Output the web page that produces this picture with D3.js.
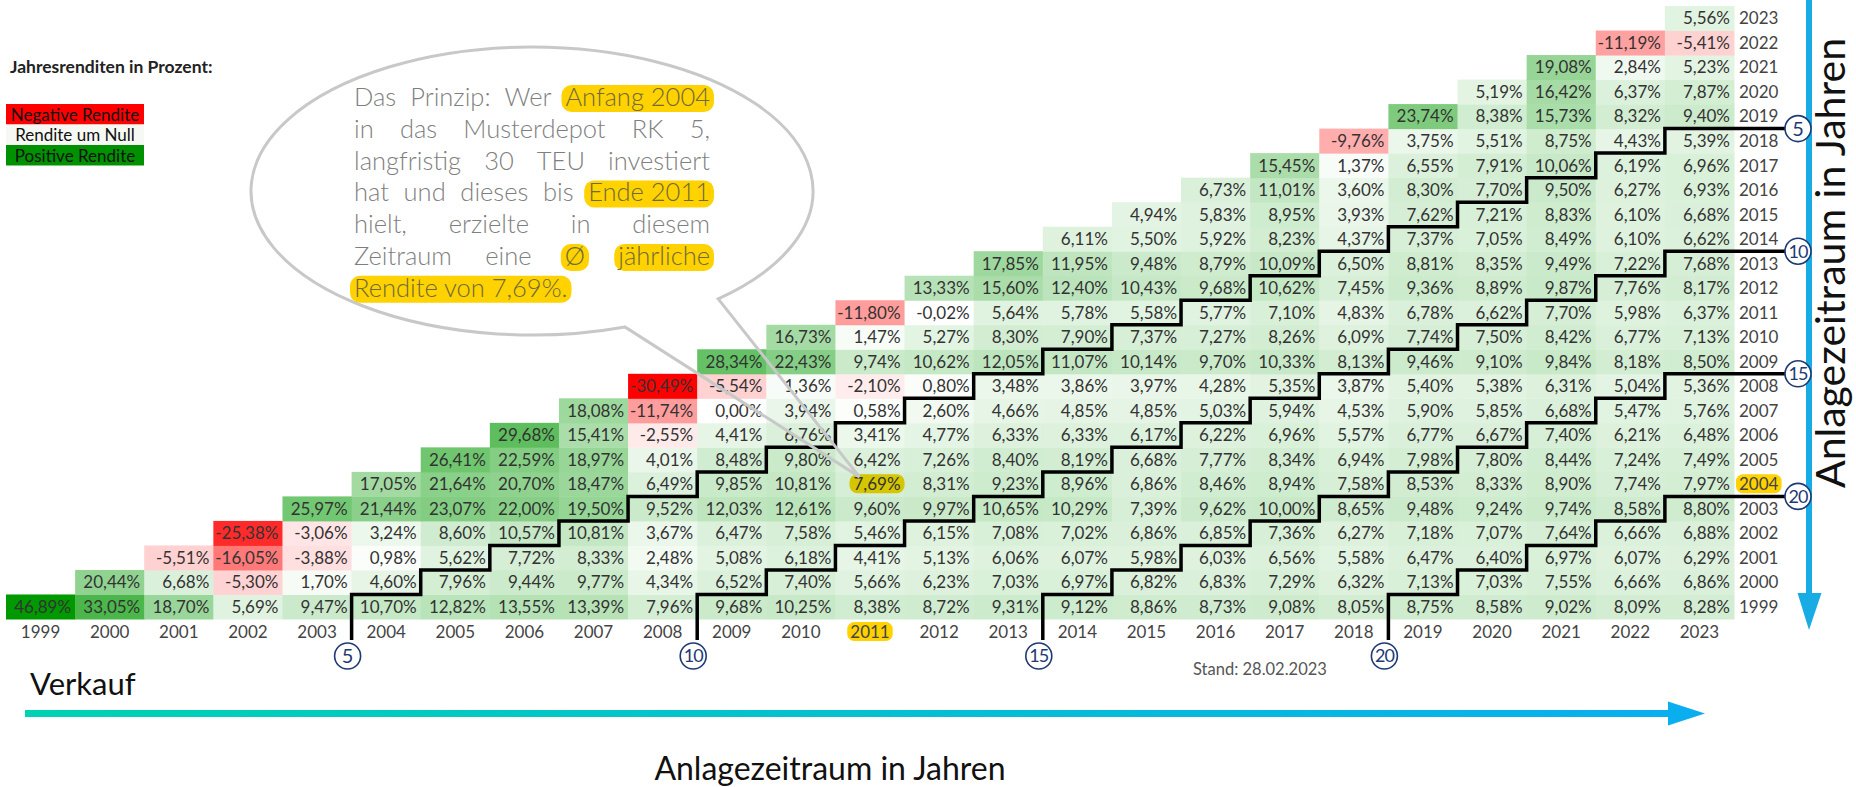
<!DOCTYPE html>
<html>
<head>
<meta charset="utf-8">
<script src="https://cdn.jsdelivr.net/npm/d3@7"></script>
<style>
body { margin: 0; background: #fff; }
svg { display: block; font-family: Lato, "Open Sans", sans-serif; }
</style>
</head>
<body>
<svg id="chart" width="1856" height="787"></svg>
<script>
/**** DATA *****/
const buyYears = [1999, 2000, 2001, 2002, 2003, 2004, 2005, 2006, 2007, 2008, 2009, 2010, 2011,
	2012, 2013, 2014, 2015, 2016, 2017, 2018, 2019, 2020, 2021, 2022, 2023];
const sellYears = buyYears.slice();

// average yearly return for "buy at start of row year, sell at end of column year"
const r1999 = [46.89, 33.05, 18.70, 5.69, 9.47, 10.70, 12.82, 13.55, 13.39, 7.96, 9.68, 10.25, 8.38, 8.72, 9.31, 9.12, 8.86, 8.73, 9.08, 8.05, 8.75, 8.58, 9.02, 8.09, 8.28];
const r2000 = [20.44, 6.68, -5.30, 1.70, 4.60, 7.96, 9.44, 9.77, 4.34, 6.52, 7.40, 5.66, 6.23, 7.03, 6.97, 6.82, 6.83, 7.29, 6.32, 7.13, 7.03, 7.55, 6.66, 6.86];
const r2001 = [-5.51, -16.05, -3.88, 0.98, 5.62, 7.72, 8.33, 2.48, 5.08, 6.18, 4.41, 5.13, 6.06, 6.07, 5.98, 6.03, 6.56, 5.58, 6.47, 6.40, 6.97, 6.07, 6.29];
const r2002 = [-25.38, -3.06, 3.24, 8.60, 10.57, 10.81, 3.67, 6.47, 7.58, 5.46, 6.15, 7.08, 7.02, 6.86, 6.85, 7.36, 6.27, 7.18, 7.07, 7.64, 6.66, 6.88];
const r2003 = [25.97, 21.44, 23.07, 22.00, 19.50, 9.52, 12.03, 12.61, 9.60, 9.97, 10.65, 10.29, 7.39, 9.62, 10.00, 8.65, 9.48, 9.24, 9.74, 8.58, 8.80];
const r2004 = [17.05, 21.64, 20.70, 18.47, 6.49, 9.85, 10.81, 7.69, 8.31, 9.23, 8.96, 6.86, 8.46, 8.94, 7.58, 8.53, 8.33, 8.90, 7.74, 7.97];
const r2005 = [26.41, 22.59, 18.97, 4.01, 8.48, 9.80, 6.42, 7.26, 8.40, 8.19, 6.68, 7.77, 8.34, 6.94, 7.98, 7.80, 8.44, 7.24, 7.49];
const r2006 = [29.68, 15.41, -2.55, 4.41, 6.76, 3.41, 4.77, 6.33, 6.33, 6.17, 6.22, 6.96, 5.57, 6.77, 6.67, 7.40, 6.21, 6.48];
const r2007 = [18.08, -11.74, 0.00, 3.94, 0.58, 2.60, 4.66, 4.85, 4.85, 5.03, 5.94, 4.53, 5.90, 5.85, 6.68, 5.47, 5.76];
const r2008 = [-30.49, -5.54, 1.36, -2.10, 0.80, 3.48, 3.86, 3.97, 4.28, 5.35, 3.87, 5.40, 5.38, 6.31, 5.04, 5.36];
const r2009 = [28.34, 22.43, 9.74, 10.62, 12.05, 11.07, 10.14, 9.70, 10.33, 8.13, 9.46, 9.10, 9.84, 8.18, 8.50];
const r2010 = [16.73, 1.47, 5.27, 8.30, 7.90, 7.37, 7.27, 8.26, 6.09, 7.74, 7.50, 8.42, 6.77, 7.13];
const r2011 = [-11.80, -0.02, 5.64, 5.78, 5.58, 5.77, 7.10, 4.83, 6.78, 6.62, 7.70, 5.98, 6.37];
const r2012 = [13.33, 15.60, 12.40, 10.43, 9.68, 10.62, 7.45, 9.36, 8.89, 9.87, 7.76, 8.17];
const r2013 = [17.85, 11.95, 9.48, 8.79, 10.09, 6.50, 8.81, 8.35, 9.49, 7.22, 7.68];
const r2014 = [6.11, 5.50, 5.92, 8.23, 4.37, 7.37, 7.05, 8.49, 6.10, 6.62];
const r2015 = [4.94, 5.83, 8.95, 3.93, 7.62, 7.21, 8.83, 6.10, 6.68];
const r2016 = [6.73, 11.01, 3.60, 8.30, 7.70, 9.50, 6.27, 6.93];
const r2017 = [15.45, 1.37, 6.55, 7.91, 10.06, 6.19, 6.96];
const r2018 = [-9.76, 3.75, 5.51, 8.75, 4.43, 5.39];
const r2019 = [23.74, 8.38, 15.73, 8.32, 9.40];
const r2020 = [5.19, 16.42, 6.37, 7.87];
const r2021 = [19.08, 2.84, 5.23];
const r2022 = [-11.19, -5.41];
const r2023 = [5.56];
const rows = [r1999, r2000, r2001, r2002, r2003, r2004, r2005, r2006, r2007, r2008, r2009, r2010, r2011,
	r2012, r2013, r2014, r2015, r2016, r2017, r2018, r2019, r2020, r2021, r2022, r2023];

const periods = [5, 10, 15, 20];
const exampleBuy = 2004, exampleSell = 2011;

const legendTitle = 'Jahresrenditen in Prozent:';
const legendLabels = ['Negative Rendite', 'Rendite um Null', 'Positive Rendite'];
const legendColors = ['#ff0000', '#f6f9f3', '#009100'];

// speech bubble, one array per line, [text, highlighted]
const bubbleLines = [
	[['Das', 0], ['Prinzip:', 0], ['Wer', 0], ['Anfang 2004', 1]],
	[['in', 0], ['das', 0], ['Musterdepot', 0], ['RK', 0], ['5,', 0]],
	[['langfristig', 0], ['30', 0], ['TEU', 0], ['investiert', 0]],
	[['hat', 0], ['und', 0], ['dieses', 0], ['bis', 0], ['Ende 2011', 1]],
	[['hielt,', 0], ['erzielte', 0], ['in', 0], ['diesem', 0]],
	[['Zeitraum', 0], ['eine', 0], ['Ø', 1], ['jährliche', 1]],
	[['Rendite von 7,69%.', 1]]
];

/**** SETUP *****/
const svg = d3.select('#chart');
const de = d3.formatLocale({decimal: ',', thousands: '.', grouping: [3], currency: ['', ' €'], minus: '-'});
const fmt = de.format('.2f');

const cells = [];
buyYears.forEach((b, i) => {
	rows[i].forEach((v, j) => cells.push({buy: b, sell: sellYears[i + j], value: v}));
});

const x = d3.scaleBand().domain(sellYears).range([6, 1734]);
const y = d3.scaleBand().domain(buyYears.slice().reverse()).range([6, 619]);
const bw = x.bandwidth(), bh = y.bandwidth();
const xr = s => x(s) + bw;

const color = d3.scaleLinear()
	.domain([d3.min(cells, d => d.value), 0, d3.max(cells, d => d.value)])
	.range(['#ff0000', '#ffffff', '#009900']);

const yellow = '#ffd200';
const navy = '#1f3a73';

/**** HEATMAP *****/
const g = svg.append('g');
g.selectAll('rect.cell').data(cells).join('rect')
	.attr('class', 'cell')
	.attr('x', d => x(d.sell)).attr('y', d => y(d.buy))
	.attr('width', bw + 0.5).attr('height', bh + 0.5)
	.attr('fill', d => color(d.value));

// highlighted example cell
const exCell = cells.find(d => d.buy === exampleBuy && d.sell === exampleSell);

const cellText = g.selectAll('text.val').data(cells).join('text')
	.attr('class', 'val')
	.attr('x', d => xr(d.sell) - 4)
	.attr('y', d => y(d.buy) + bh / 2)
	.attr('dy', '0.36em')
	.attr('text-anchor', 'end')
	.attr('font-size', 17)
	.attr('fill', '#333')
	.text(d => fmt(d.value) + '%');

cellText.filter(d => d === exCell).each(function() {
	const bb = this.getBBox();
	g.insert('rect', 'text.val')
		.attr('x', bb.x - 4).attr('y', bb.y + 1)
		.attr('width', bb.width + 8).attr('height', bb.height - 2)
		.attr('rx', 8).attr('fill', '#d6c600');
});

// bottom axis (sell years)
const xLab = svg.append('g').selectAll('text').data(sellYears).join('text')
	.attr('x', d => x(d) + bw / 2).attr('y', 632).attr('dy', '0.36em')
	.attr('text-anchor', 'middle').attr('font-size', 17).attr('fill', '#444')
	.text(d => d);

// right axis (buy years)
const yLab = svg.append('g').selectAll('text').data(buyYears).join('text')
	.attr('x', 1739).attr('y', d => y(d) + bh / 2).attr('dy', '0.36em')
	.attr('font-size', 17).attr('fill', '#444')
	.text(d => d);

function markLabel(sel, key) {
	sel.filter(d => d === key).each(function() {
		const bb = this.getBBox();
		d3.select(this.parentNode).insert('rect', 'text')
			.attr('x', bb.x - 3).attr('y', bb.y + 1)
			.attr('width', bb.width + 6).attr('height', bb.height - 2)
			.attr('rx', 7).attr('fill', yellow);
	});
}
markLabel(xLab, exampleSell);
markLabel(yLab, exampleBuy);

/**** RIGHT ARROW *****/
svg.append('rect').attr('x', 1806).attr('y', 0).attr('width', 6).attr('height', 596).attr('fill', '#19ace4');
svg.append('path').attr('d', 'M1797.5,593L1821.5,593L1809,630Z').attr('fill', '#19ace4');

svg.append('text')
	.attr('transform', 'translate(1845,488) rotate(-90)')
	.attr('font-size', 41).attr('fill', '#111')
	.text('Anlagezeitraum in Jahren');

/**** STAIRCASES *****/
const first = buyYears[0], last = buyYears[buyYears.length - 1];
const rightCx = 1798, circR = 13, bottomCy = 656;
const line = d3.line();

periods.forEach(n => {
	const s0 = first + n - 1;
	const pts = [[xr(s0), bottomCy - circR - 3], [xr(s0), y(first)]];
	for (let b = first + 1; b + n - 1 <= last; b++) {
		const s = b + n - 1;
		pts.push([xr(s), y(b) + bh]);
		if (s < last) pts.push([xr(s), y(b)]);
		else pts.push([rightCx - circR, y(b) + bh]);
	}
	svg.append('path').attr('d', line(pts))
		.attr('fill', 'none').attr('stroke', '#000').attr('stroke-width', 3.5)
		.attr('stroke-linejoin', 'miter');
});

// numbered circles, bottom and right
const marks = [];
periods.forEach(n => {
	marks.push({n, cx: xr(first + n - 1) - 4, cy: bottomCy});
	marks.push({n, cx: rightCx, cy: y(last - n + 1) + bh});
});
const mk = svg.append('g').selectAll('g').data(marks).join('g')
	.attr('transform', d => `translate(${d.cx},${d.cy})`);
mk.append('circle').attr('r', circR).attr('fill', '#fff').attr('stroke', navy).attr('stroke-width', 1.6);
mk.append('text').attr('text-anchor', 'middle').attr('dy', '0.36em')
	.attr('font-size', d => d.n < 10 ? 20 : 18).attr('letter-spacing', d => d.n < 10 ? 0 : -1)
	.attr('fill', navy).text(d => d.n);

/**** BOTTOM *****/
svg.append('text').attr('x', 1193).attr('y', 675).attr('font-size', 16.5).attr('fill', '#555')
	.text('Stand: 28.02.2023');

svg.append('text').attr('x', 30).attr('y', 695).attr('font-size', 31).attr('fill', '#111')
	.text('Verkauf');

const grad = svg.append('defs').append('linearGradient').attr('id', 'arrowGrad')
	.attr('gradientUnits', 'userSpaceOnUse').attr('x1', 25).attr('x2', 1705).attr('y1', 0).attr('y2', 0);
grad.append('stop').attr('offset', 0).attr('stop-color', '#00d2b2');
grad.append('stop').attr('offset', 1).attr('stop-color', '#0aaef0');
svg.append('rect').attr('x', 25).attr('y', 710).attr('width', 1648).attr('height', 7).attr('fill', 'url(#arrowGrad)');
svg.append('path').attr('d', 'M1668,701.5L1705,713.5L1668,725.5Z').attr('fill', 'url(#arrowGrad)');

svg.append('text').attr('x', 830).attr('y', 780).attr('text-anchor', 'middle')
	.attr('font-size', 32).attr('fill', '#111')
	.text('Anlagezeitraum in Jahren');

/**** LEGEND *****/
svg.append('text').attr('x', 10).attr('y', 73).attr('font-size', 17.5).attr('font-weight', 'bold').attr('fill', '#222')
	.text(legendTitle);
const lg = svg.append('g').selectAll('g').data(legendLabels).join('g')
	.attr('transform', (d, i) => `translate(6,${104 + i * 20.5})`);
lg.append('rect').attr('width', 138).attr('height', 20.5).attr('fill', (d, i) => legendColors[i]);
lg.append('text').attr('x', 69).attr('y', 10.5).attr('dy', '0.36em').attr('text-anchor', 'middle')
	.attr('font-size', 17).attr('fill', '#111').text(d => d);

/**** SPEECH BUBBLE *****/
const bub = {cx: 532, cy: 191, rx: 281, ry: 144};
const angR = 48.5 * Math.PI / 180, angL = 70.7 * Math.PI / 180;
const pR = [bub.cx + bub.rx * Math.cos(angR), bub.cy + bub.ry * Math.sin(angR)];
const pL = [bub.cx + bub.rx * Math.cos(angL), bub.cy + bub.ry * Math.sin(angL)];
const tip = [x(exampleSell) + 24, y(exampleBuy) + 5];
svg.append('path')
	.attr('d', `M${pR}A${bub.rx},${bub.ry} 0 1 0 ${pL}L${tip}Z`)
	.attr('fill', 'none').attr('stroke', '#c8c8c8').attr('stroke-width', 3)
	.attr('stroke-linejoin', 'miter');

const tb = svg.append('g').attr('font-size', 25.5).attr('font-weight', 300);
const textLeft = 354, textWidth = 356, base0 = 106, lineStep = 31.8;
const measure = tb.append('text').attr('x', -999).attr('y', -999);
const widthOf = s => measure.text(s).node().getComputedTextLength();
const spaceW = widthOf('a a') - widthOf('aa');

bubbleLines.forEach((tokens, li) => {
	const widths = tokens.map(t => widthOf(t[0]));
	const total = d3.sum(widths);
	const lastLine = li === bubbleLines.length - 1;
	const gap = lastLine || tokens.length < 2 ? spaceW : (textWidth - total) / (tokens.length - 1);
	const by = base0 + li * lineStep;
	let cx = textLeft;
	tokens.forEach((t, k) => {
		if (t[1]) {
			tb.append('rect').attr('x', cx - 4).attr('y', by - 21).attr('width', widths[k] + 8).attr('height', 27)
				.attr('rx', 10).attr('fill', yellow);
		}
		tb.append('text').attr('x', cx).attr('y', by).attr('fill', t[1] ? '#6f6a3a' : '#7f7f7f').text(t[0]);
		cx += widths[k] + gap;
	});
});
measure.remove();
</script>
</body>
</html>
